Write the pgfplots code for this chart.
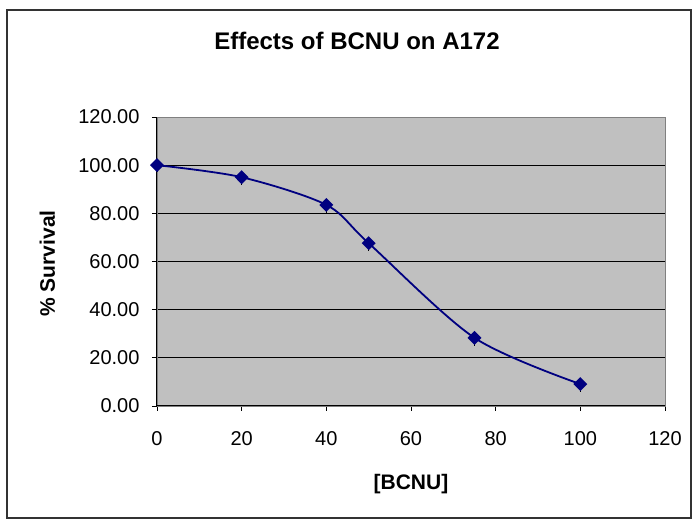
\documentclass[border=0pt]{standalone}
\usepackage{fontspec}
\setmainfont{Liberation Sans}
\usepackage{pgfplots}
\pgfplotsset{compat=1.18}
\definecolor{plotgray}{RGB}{192,192,192}
\definecolor{navyline}{RGB}{0,0,128}
\definecolor{framegray}{RGB}{51,51,51}
\begin{document}
\begin{tikzpicture}[x=1pt,y=1pt]
\useasboundingbox (-157,-115) rectangle (537,406);
\draw[framegray, line width=1.8pt] (-150,-112) rectangle (534,396);
\begin{axis}[
  at={(0,0)}, anchor=south west,
  scale only axis, width=508pt, height=289pt,
  xmin=0, xmax=120, ymin=0, ymax=120,
  xtick={0,20,...,120}, ytick={0,20,...,120},
  xtick pos=left, ytick pos=left,
  tick align=outside, major tick length=5pt,
  tick style={black, line width=0.8pt},
  axis background/.style={fill=plotgray},
  axis line style={gray, line width=0.8pt},
  ymajorgrids, grid style={black, line width=0.8pt},
  /pgf/number format/assume math mode=true,
  tick label style={font=\fontsize{20}{24}\selectfont},
  x tick label style={yshift=-17pt},
  y tick label style={xshift=-9pt, /pgf/number format/.cd, fixed, fixed zerofill, precision=2},
  clip=false,
]
\addplot[navyline, line width=1.8pt, smooth, tension=0.5,
  mark=diamond*, mark size=5.7pt, mark options={xscale=1.33, solid, fill=navyline},
  error bars/.cd, y dir=minus, y explicit,
  error bar style={black, line width=1.2pt}, error mark=none]
  table[x=x, y=y, y error=e] {
x y e
0 100 3
20 95 3.3
40 83.5 3.3
50 67.6 3.3
75 28.3 3.3
100 9.1 3.3
};
\draw[black, line width=1pt] (rel axis cs:0,0) -- (rel axis cs:0,1);
\draw[black, line width=1pt] (rel axis cs:0,0) -- (rel axis cs:1,0);
\end{axis}
\node[anchor=base, font=\bfseries\fontsize{24}{28}\selectfont] at (200,356) {Effects of BCNU on A172};
\node[anchor=base, font=\bfseries\fontsize{21}{25}\selectfont] at (254,-84) {[BCNU]};
\node[anchor=base, rotate=90, font=\bfseries\fontsize{21}{25}\selectfont] at (-102,142.5) {\% Survival};
\end{tikzpicture}
\end{document}
